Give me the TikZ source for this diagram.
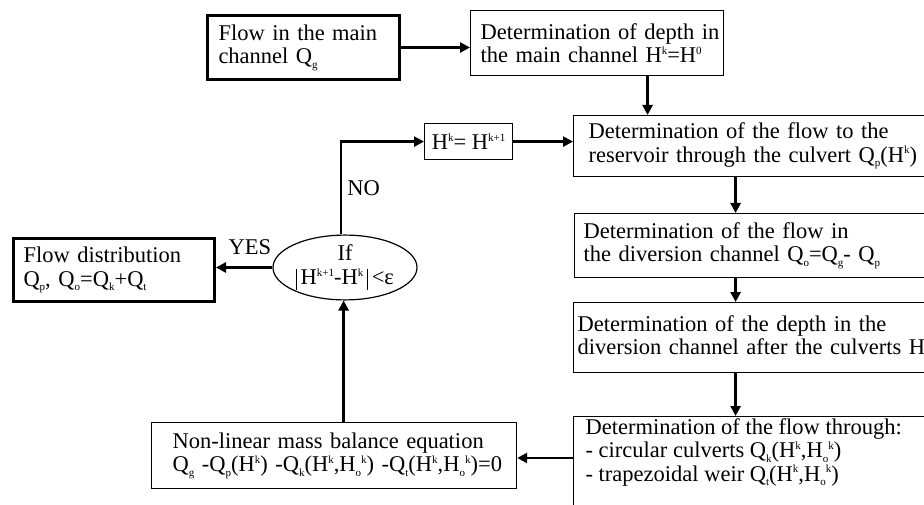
\documentclass[tikz,border=0pt]{standalone}
\usepackage{fontspec}
\setmainfont{Liberation Serif}
\usetikzlibrary{arrows.meta,shapes.geometric,calc}
\newcommand\fs{\fontsize{22.5}{23.5}\selectfont}
\newcommand\su[1]{\raisebox{-4.5pt}{\fontsize{11}{11}\selectfont #1}}
\newcommand\upx[1]{\raisebox{8.5pt}{\fontsize{11}{11}\selectfont #1}}
\newcommand\vbar{\rule[-5.5pt]{0.9pt}{21pt}}
\begin{document}
\begin{tikzpicture}[x=1pt,y=-1pt,
  box/.style={draw, line width=1.2pt, anchor=north west, align=left, inner ysep=0pt, font=\fs},
  heavy/.style={line width=3pt},
  arr/.style={line width=2.6pt, -{Triangle[length=10pt,width=10pt]}},
  lab/.style={font=\fs, inner sep=0pt}]
\clip (0,0) rectangle (924,505);
\fill[white] (0,0) rectangle (924,505);

\node[box, heavy, inner xsep=11pt, text width=170pt, minimum height=64pt] (b1) at (206,14)
  {\mbox{Flow in the main}\\\mbox{channel Q\su{g}}};
\node[box, inner xsep=10pt, text width=233pt, minimum height=65pt] (b2) at (470,10)
  {\mbox{Determination of depth in}\\\mbox{the main channel H\upx{k}=H\upx{0}}};
\node[box, inner xsep=15pt, text width=340pt, minimum height=61pt] (b3) at (573,115)
  {\mbox{Determination of the flow to the}\\\mbox{reservoir through the culvert Q\su{p}(H\upx{k})}};
\node[box, align=center, inner xsep=0pt, minimum width=88pt, minimum height=36pt] (hk) at (424,123)
  {H\upx{k}= H\upx{k+1}};
\node[box, inner xsep=9pt, text width=350pt, minimum height=64pt] (b4) at (574,213)
  {\mbox{Determination of the flow in}\\\mbox{the diversion channel Q\su{o}=Q\su{g}- Q\su{p}}};
\node[box, inner xsep=4pt, text width=380pt, minimum height=70pt] (b5) at (573,302)
  {\mbox{Determination of the depth in the}\\\mbox{diversion channel after the culverts H\su{o}}};
\node[box, inner xsep=12pt, inner ysep=2pt] (b6) at (573,416)
  {\parbox[c][120pt][t]{360pt}{\fs\mbox{Determination of the flow through:}\\\mbox{- circular culverts Q\su{k}(H\upx{k},H\su{o}\upx{k})}\\\mbox{- trapezoidal weir Q\su{t}(H\upx{k},H\su{o}\upx{k})}}};
\node[box, inner xsep=21pt, text width=323pt, minimum height=66pt] (b7) at (151,422)
  {\mbox{Non-linear mass balance equation}\\\mbox{Q\su{g} -Q\su{p}(H\upx{k}) -Q\su{k}(H\upx{k},H\su{o}\upx{k}) -Q\su{t}(H\upx{k},H\su{o}\upx{k})=0}};
\node[box, heavy, inner xsep=10pt, text width=181pt, minimum height=63pt] (dist) at (12,237)
  {\mbox{Flow distribution}\\\mbox{Q\su{p}, Q\su{o}=Q\su{k}+Q\su{t}}};
\node[draw, ellipse, line width=1.2pt, minimum width=144pt, minimum height=61pt, inner sep=0pt,
  align=center, font=\fs] (el) at (345,267.5)
  {If\\[1pt]\vbar\,H\upx{k+1}-H\upx{k}\,\vbar\,<ε};

\draw[arr] (b1.east) -- (b1.east -| b2.west);
\draw[arr] ([xshift=50.5pt]b2.south) -- ([xshift=50.5pt]b2.south |- b3.north);
\draw[arr] ([xshift=-23pt]b3.south) -- ([xshift=-23pt]b3.south |- b4.north);
\draw[arr] ([xshift=-23pt]b4.south) -- ([xshift=-23pt]b4.south |- b5.north);
\draw[arr] ([xshift=-32pt]b5.south) -- ([xshift=-32pt]b5.south |- b6.north);
\draw[arr] ([yshift=-42pt]b6.north west) -- ([yshift=-42pt]b6.north west -| b7.east);
\draw[arr] ([xshift=9.5pt]b7.north) -- ([xshift=9.5pt]b7.north |- el.south);
\draw[arr] (el.west) -- (el.west -| dist.east) node[lab, pos=0.4, above=11pt] {YES};
\draw[arr] ([xshift=-4pt]el.north) |- (hk.west) node[lab, pos=0.25, right=5pt] {NO};
\draw[arr] (hk.east) -- (hk.east -| b3.west);
\end{tikzpicture}
\end{document}
